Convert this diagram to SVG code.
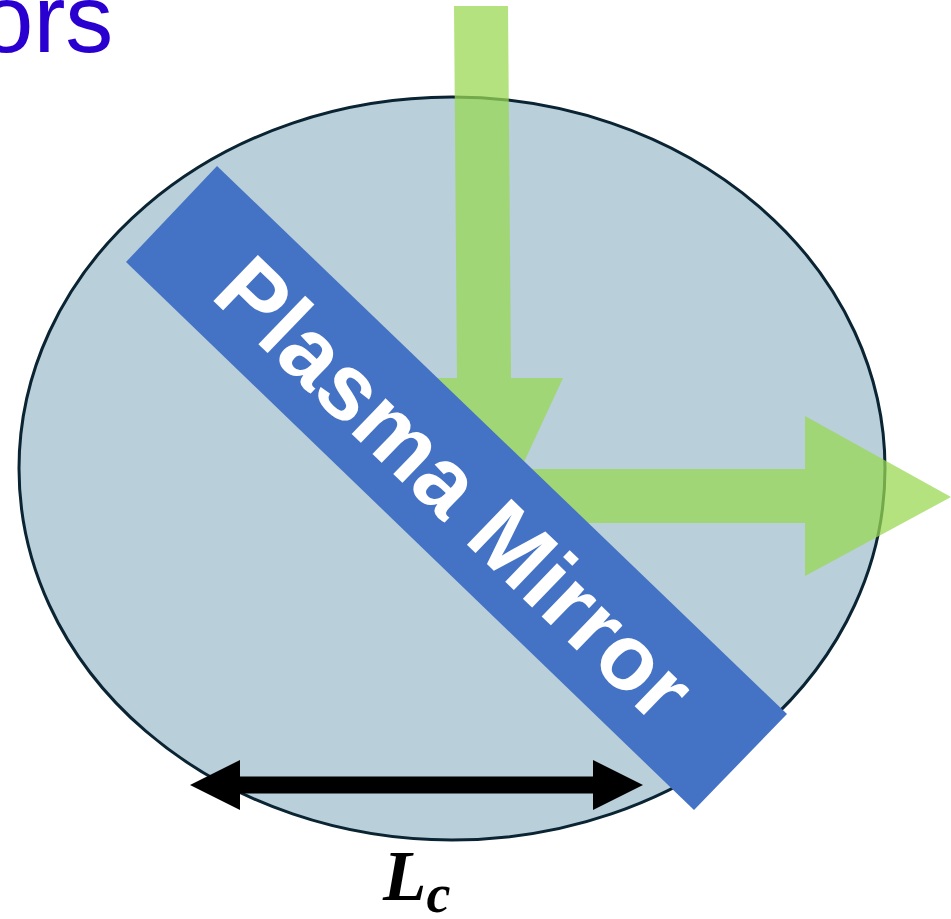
<svg xmlns="http://www.w3.org/2000/svg" width="951" height="919" viewBox="0 0 951 919">
<style>
.green{fill:#99d852;fill-opacity:0.74}
.lbl{font-family:"Liberation Serif",serif;font-weight:bold;font-style:italic;fill:#000}
</style>
<rect width="951" height="919" fill="#fff"/>
<text x="-20" y="52" font-family="Liberation Sans, Arial, sans-serif" font-size="96" fill="#2a00d0">ors</text>
<g id="cavity">
<ellipse cx="452" cy="468.5" rx="433" ry="371.5" fill="#b9cfda" stroke="#0a2433" stroke-width="3"/>
</g>
<g id="connectors">
<polygon id="incident" class="green" points="454,6 508,6 511,378 563,378 486,544 407,378 457,378"/>
<polygon id="reflected" class="green" points="480,469 805,469 805,416 951,497 805,576 805,523 480,523"/>
<g id="lc-arrow">
<rect x="238" y="776.5" width="357" height="17" fill="#000"/>
<polygon points="190,785 240,760 240,810" fill="#000"/>
<polygon points="643,785 593,760 593,810" fill="#000"/>
</g>
</g>
<g id="mirror">
<polygon points="217,166 787,714 694,810 126,262" fill="#4472c4"/>
<text transform="translate(455.5,488) rotate(43.87)" x="0" y="33" text-anchor="middle" font-family="Liberation Sans, Arial, sans-serif" font-weight="bold" font-size="93" fill="#fff">Plasma Mirror</text>
</g>
<g id="label-lc">
<text class="lbl" x="383" y="900" font-size="71">L<tspan font-size="54" dy="12">c</tspan></text>
</g>
</svg>
